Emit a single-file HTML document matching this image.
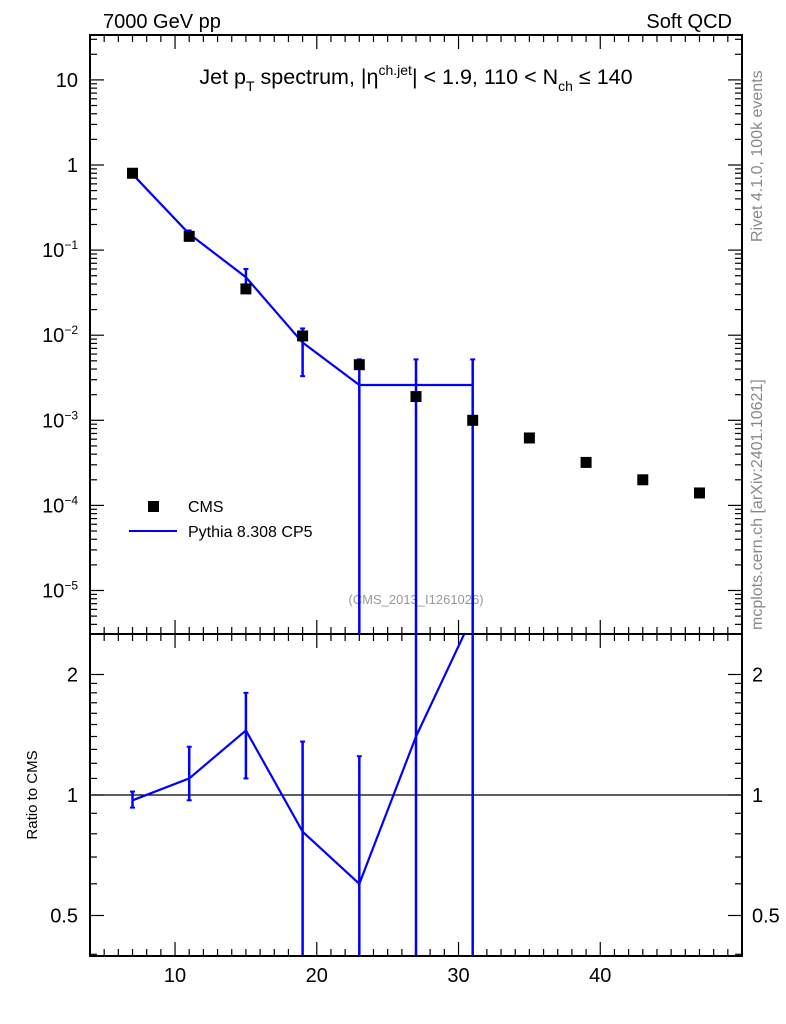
<!DOCTYPE html>
<html><head><meta charset="utf-8"><style>
html,body{margin:0;background:#fff;overflow:hidden;width:786px;height:1024px}
svg{display:block;font-family:"Liberation Sans",sans-serif}
</style></head><body>
<svg id="c" width="786" height="1024" xmlns="http://www.w3.org/2000/svg">
<text x="103" y="28" font-size="20">7000 GeV pp</text>
<text x="732" y="28" font-size="20" text-anchor="end">Soft QCD</text>
<text x="416" y="84" font-size="21.5" text-anchor="middle">Jet p<tspan font-size="14" dy="7">T</tspan><tspan dy="-7"> spectrum, |η</tspan><tspan font-size="14" dy="-9">ch.jet</tspan><tspan dy="9">| &lt; 1.9, 110 &lt; N</tspan><tspan font-size="14" dy="7">ch</tspan><tspan dy="-7"> ≤ 140</tspan></text>
<text transform="translate(762,242) rotate(-90)" font-size="16" fill="#888">Rivet 4.1.0,  100k events</text>
<text transform="translate(762,630) rotate(-90)" font-size="16" fill="#888">mcplots.cern.ch [arXiv:2401.10621]</text>
<text x="416" y="604" font-size="13" fill="#999" text-anchor="middle">(CMS_2013_I1261026)</text>
<text transform="translate(37,795) rotate(-90)" font-size="15" text-anchor="middle">Ratio to CMS</text>
<g id="g"></g>
<rect x="148" y="501" width="11" height="11" fill="#000"/>
<text x="188" y="512" font-size="16">CMS</text>
<line x1="129" y1="531" x2="177" y2="531" stroke="#00f" stroke-width="2"/>
<text x="188" y="537" font-size="16">Pythia 8.308 CP5</text>
</svg>
<script>
const xs=[7,11,15,19,23,27,31,35,39,43,47];
const cms=[0.8,0.145,0.035,0.0098,0.0045,0.0019,0.001,0.00062,0.00032,0.0002,0.00014];
const pxs=[7,11,15,19,23,27,31];
const py=[0.78,0.155,0.048,0.0082,0.0026,0.0026,0.0026];
const pyLo=[0.76,0.13,0.035,0.0033,1e-9,1e-9,1e-9];
const pyHi=[0.8,0.17,0.06,0.012,0.0052,0.0052,0.0052];
const ratio=[0.97,1.1,1.45,0.81,0.6,1.4,2.8];
const rLo=[0.93,0.97,1.1,0.01,0.01,0.01,0.01];
const rHi=[1.02,1.32,1.8,1.36,1.25,9,9];
const xTicks=[10,20,30,40];
const yTicks=[10,1,0.1,0.01,0.001,0.0001,0.00001];
const yLabels=["10","1","10<tspan font-size='12' dy='-8'>−1</tspan>","10<tspan font-size='12' dy='-8'>−2</tspan>","10<tspan font-size='12' dy='-8'>−3</tspan>","10<tspan font-size='12' dy='-8'>−4</tspan>","10<tspan font-size='12' dy='-8'>−5</tspan>"];
const rTicks=[0.5,1,2];
const L=90,R=742,T=35,M=634,B=956;
const X=v=>L+(v-4)/(50-4)*(R-L);
const Y=v=>{v=Math.max(v,1e-7);return 165-Math.log10(v)*85.1;};
const RY=v=>{v=Math.max(v,0.01);return 795-Math.log2(v)*120.5;};
const g=document.getElementById('g');
const NS='http://www.w3.org/2000/svg';
function el(t,a,name,txt){const e=document.createElementNS(NS,t);for(const k in a)e.setAttribute(k,a[k]);


if(txt!==undefined)e.innerHTML=txt;g.appendChild(e);return e;}
const defs=el('defs',{},'defs');
defs.innerHTML=`<clipPath id="cm"><rect x="${L}" y="${T}" width="${R-L}" height="${M-T}"/></clipPath><clipPath id="cr"><rect x="${L}" y="${M}" width="${R-L}" height="${B-M}"/></clipPath>`;
el('rect',{x:L,y:T,width:R-L,height:M-T,fill:'none',stroke:'#000','stroke-width':2},'main-frame');
el('rect',{x:L,y:M,width:R-L,height:B-M,fill:'none',stroke:'#000','stroke-width':2},'ratio-frame');
for(let v=5;v<=50;v++){const big=v%10==0;const len=big?14:7;const x=X(v);
 for(const [y0,d] of [[T,1],[M,-1],[M,1],[B,-1]]) el('line',{x1:x,x2:x,y1:y0,y2:y0+d*len,stroke:'#000','stroke-width':1.2},'x-tick');}
xTicks.forEach(v=>el('text',{x:X(v),y:982,'font-size':20,'text-anchor':'middle'},'x-tick-label',String(v)));
for(let e=-6;e<=1;e++){for(let m=1;m<10;m++){const v=m*Math.pow(10,e);const y=Y(v);if(y<T||y>M)continue;const len=m==1?14:7;
 el('line',{x1:L,x2:L+len,y1:y,y2:y,stroke:'#000','stroke-width':1.2},'y-tick');el('line',{x1:R,x2:R-len,y1:y,y2:y,stroke:'#000','stroke-width':1.2},'y-tick');}}
yTicks.forEach((v,i)=>el('text',{x:78,y:Y(v)+7,'font-size':20,'text-anchor':'end'},'y-tick-label',yLabels[i]));
for(let v=0.4;v<=2.5;v+=(v<0.999?0.1:(v<1.999?0.1:0.5))){const y=RY(v);if(y<M||y>B)continue;const big=rTicks.some(t=>Math.abs(t-v)<1e-6);const len=big?14:7;
 el('line',{x1:L,x2:L+len,y1:y,y2:y,stroke:'#000','stroke-width':1.2},'ratio-tick');el('line',{x1:R,x2:R-len,y1:y,y2:y,stroke:'#000','stroke-width':1.2},'ratio-tick');}
rTicks.forEach(v=>{el('text',{x:78,y:RY(v)+7,'font-size':20,'text-anchor':'end'},'ratio-tick-label',String(v));el('text',{x:752,y:RY(v)+7,'font-size':20},'ratio-tick-label-right',String(v));});
el('line',{x1:L,x2:R,y1:RY(1),y2:RY(1),stroke:'#000','stroke-width':1.2},'ratio-unity-line');
const gm=el('g',{'clip-path':'url(#cm)'},'main-plot-area');
function add(par,t,a,name){const e=document.createElementNS(NS,t);for(const k in a)e.setAttribute(k,a[k]);


par.appendChild(e);return e;}
add(gm,'polyline',{points:pxs.map((x,i)=>X(x)+','+Y(py[i])).join(' '),fill:'none',stroke:'#00f','stroke-width':2.2},'pythia-line');
pxs.forEach((x,i)=>{const xx=X(x);add(gm,'line',{x1:xx,x2:xx,y1:Y(pyLo[i]),y2:Y(pyHi[i]),stroke:'#00f','stroke-width':2.5},'pythia-error-bar');
 add(gm,'line',{x1:xx-2.5,x2:xx+2.5,y1:Y(pyHi[i]),y2:Y(pyHi[i]),stroke:'#00f','stroke-width':2},'pythia-error-cap');
 add(gm,'line',{x1:xx-2.5,x2:xx+2.5,y1:Y(pyLo[i]),y2:Y(pyLo[i]),stroke:'#00f','stroke-width':2},'pythia-error-cap');});
xs.forEach((x,i)=>add(gm,'rect',{x:X(x)-5.5,y:Y(cms[i])-5.5,width:11,height:11,fill:'#000'},'cms-point'));
const gr=el('g',{'clip-path':'url(#cr)'},'ratio-plot-area');
add(gr,'polyline',{points:pxs.map((x,i)=>X(x)+','+RY(ratio[i])).join(' '),fill:'none',stroke:'#00f','stroke-width':2.2},'ratio-line');
pxs.forEach((x,i)=>{const xx=X(x);add(gr,'line',{x1:xx,x2:xx,y1:RY(rLo[i]),y2:RY(rHi[i]),stroke:'#00f','stroke-width':2.5},'ratio-error-bar');
 add(gr,'line',{x1:xx-2.5,x2:xx+2.5,y1:RY(rHi[i]),y2:RY(rHi[i]),stroke:'#00f','stroke-width':2},'ratio-error-cap');
 add(gr,'line',{x1:xx-2.5,x2:xx+2.5,y1:RY(rLo[i]),y2:RY(rLo[i]),stroke:'#00f','stroke-width':2},'ratio-error-cap');});
</script>
</body></html>
